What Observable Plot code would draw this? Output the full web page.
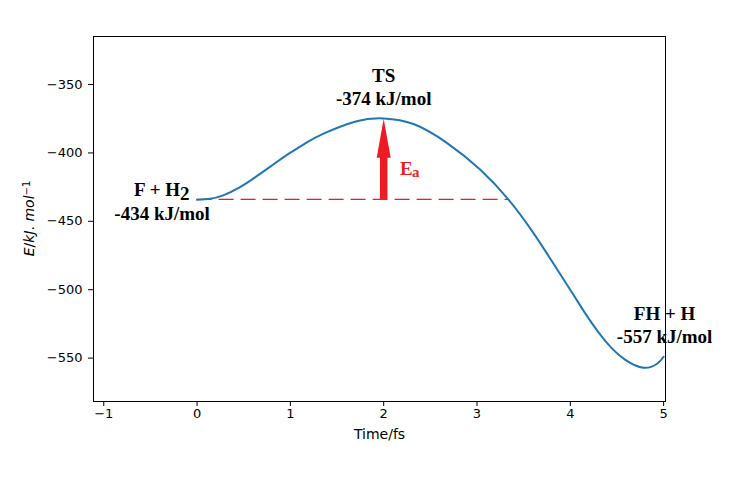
<!DOCTYPE html>
<html><head><meta charset="utf-8">
<script src="https://cdn.jsdelivr.net/npm/d3@7"></script>
<script src="https://cdn.jsdelivr.net/npm/@observablehq/plot@0.6"></script>
<style>body{margin:0;background:#fff}</style>
</head><body><div id="chart"></div>
<script>
// reaction coordinate (time, fs) and energy (kJ/mol)
const time   = [0, 0.14, 0.28, 0.46, 0.64, 0.82, 1.0, 1.17, 1.35, 1.71, 2.0, 2.32, 2.68, 3.03, 3.34, 3.60, 3.82, 4.03, 4.16, 4.30, 4.44, 4.59, 4.78, 4.93, 5.0];
const energy = [-434.3, -433.5, -431.0, -425.0, -417.0, -408.3, -399.8, -392.6, -386.1, -376.9, -374.8, -378.9, -392.8, -411.9, -434.3, -458.1, -481.0, -503.3, -517.3, -531.0, -542.5, -551.3, -557.0, -554.1, -549.0];

const xTicks = [-1, 0, 1, 2, 3, 4, 5];
const yTicks = [-350, -400, -450, -500, -550];

// reactant level (dashed) and activation-energy arrow
const reactantLevel = [{x1: 0, x2: 3.35, y: -434}];
const activation = [{x: 2, start: -434, end: -375}];

// state annotations
const stateLabels = [
  {x: 2, y: -351.5, text: "TS\n-374 kJ/mol"},
  {x: 5.01, y: -525, text: "FH + H\n-557 kJ/mol"},
  {x: -0.375, y: -443.8, text: "-434 kJ/mol"}
];
const reactantName = [{x: -0.182, y: -427, name: "F + H", sub: "2"}];
const eaLabel = [{x: 2.176, y: -411.6, main: "E", sub: "a"}];

const curve = time.map((t, i) => ({t, e: energy[i]}));
const red = "#ed1c24";
const serif = "Liberation Serif, Times New Roman, serif";

const plot = Plot.plot({
  width: 747, height: 478,
  marginLeft: 93, marginRight: 82, marginTop: 36, marginBottom: 77,
  style: {fontFamily: "DejaVu Sans", fontSize: "13px", color: "black", background: "white"},
  x: {domain: [-1.11, 5.02]},
  y: {domain: [-581.7, -314.9]},
  marks: [
    Plot.axisX({ticks: xTicks, tickFormat: d3.format("d"), tickSize: 5, tickPadding: 2, label: null, fontSize: 13}),
    Plot.axisY({ticks: yTicks, tickFormat: d3.format("d"), tickSize: 5, tickPadding: 6, label: null, fontSize: 13}),
    Plot.frame({stroke: "black", strokeWidth: 1}),
    Plot.ruleY(reactantLevel, {y: "y", x1: "x1", x2: "x2", stroke: red, strokeWidth: 1.2, strokeDasharray: "15,7"}),
    Plot.line(curve, {x: "t", y: "e", stroke: "#1f77b4", strokeWidth: 2, curve: "natural"}),
    Plot.ruleX(activation, {x: "x", y1: "start", y2: d => d.start + 0.6 * (d.end - d.start), stroke: red, strokeWidth: 7.5}),
    Plot.vector(activation, {x: "x", y: "end", length: 39, r: 7, shape: "spike", anchor: "end", fill: red, stroke: "none"}),
    Plot.text(stateLabels, {x: "x", y: "y", text: "text", fontFamily: serif, fontWeight: "bold", fontSize: 19, lineHeight: 1.2, fill: "black"}),
    Plot.text(reactantName, {x: "x", y: "y", text: "name", textAnchor: "end", fontFamily: serif, fontWeight: "bold", fontSize: 19, fill: "black"}),
    Plot.text(reactantName, {x: "x", y: "y", text: "sub", textAnchor: "start", dy: 4, fontFamily: serif, fontWeight: "bold", fontSize: 19, fill: "black"}),
    Plot.text(eaLabel, {x: "x", y: "y", text: "main", textAnchor: "start", fontFamily: serif, fontWeight: "bold", fontSize: 19, fill: red}),
    Plot.text(eaLabel, {x: "x", y: "y", text: "sub", textAnchor: "start", dx: 12, dy: 3, fontFamily: serif, fontWeight: "bold", fontSize: 15, fill: red}),
    Plot.text(["Time/fs"], {frameAnchor: "bottom", dy: 37, text: d => d, fontFamily: "DejaVu Sans", fontSize: 14, fill: "black"})
  ]
});
document.getElementById("chart").appendChild(plot);

// y-axis label with italic letters and superscript
const svg = d3.select(plot.tagName.toLowerCase() === "svg" ? plot : plot.querySelector("svg"));
const yl = svg.append("text")
  .attr("transform", "translate(29,218.5) rotate(-90)")
  .attr("text-anchor", "middle")
  .attr("dy", "0.35em")
  .attr("font-family", "DejaVu Sans")
  .attr("font-size", 14)
  .attr("fill", "black");
yl.append("tspan").attr("font-style", "italic").text("E");
yl.append("tspan").text("/");
yl.append("tspan").attr("font-style", "italic").text("kJ");
yl.append("tspan").text(". ");
yl.append("tspan").attr("font-style", "italic").text("mol");
yl.append("tspan").attr("font-size", 10).attr("baseline-shift", "45%").text("−1");
</script>
</body></html>
